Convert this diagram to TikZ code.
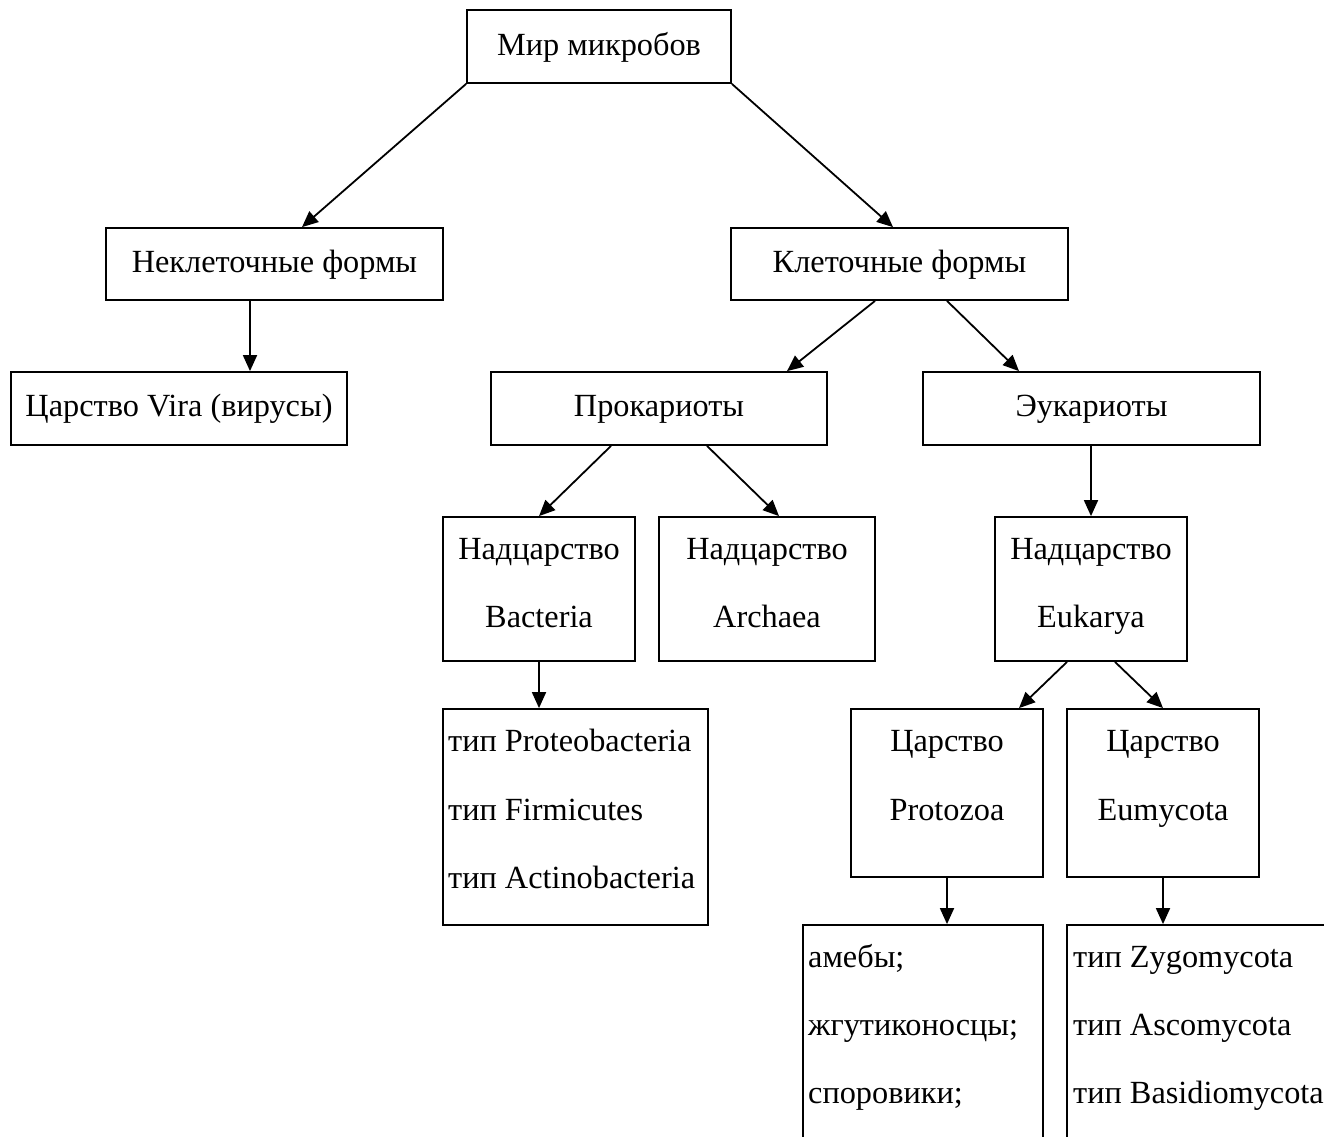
\documentclass[tikz,border=0pt]{standalone}
\usepackage{fontspec}
\setmainfont{Liberation Serif}
\usetikzlibrary{arrows.meta}
\begin{document}
\begin{tikzpicture}[x=1pt,y=-1pt,
  box/.style={draw,line width=1.8pt,inner sep=0pt},
  lbl/.style={font=\fontsize{32.3}{40}\selectfont,inner sep=0pt,anchor=base},
  lbll/.style={lbl,anchor=base west},
  arr/.style={-{Triangle[length=16pt,width=14pt]},line width=1.8pt}]
\clip (0,0) rectangle (1324,1136);
\fill[white] (0,0) rectangle (1324,1136);
% boxes
\node[box,minimum width=264pt,minimum height=73pt] (mir) at (599,46.5) {};
\node[box,minimum width=337pt,minimum height=72pt] (nek) at (274.5,264) {};
\node[box,minimum width=337pt,minimum height=72pt] (kl) at (899.5,264) {};
\node[box,minimum width=336pt,minimum height=73pt] (vira) at (179,408.5) {};
\node[box,minimum width=336pt,minimum height=73pt] (pro) at (659,408.5) {};
\node[box,minimum width=337pt,minimum height=73pt] (euk) at (1091.5,408.5) {};
\node[box,minimum width=192pt,minimum height=144pt] (bac) at (539,589) {};
\node[box,minimum width=216pt,minimum height=144pt] (arc) at (767,589) {};
\node[box,minimum width=192pt,minimum height=144pt] (eukarya) at (1091,589) {};
\node[box,minimum width=265pt,minimum height=216pt] (types) at (575.5,817) {};
\node[box,minimum width=192pt,minimum height=168pt] (protozoa) at (947,793) {};
\node[box,minimum width=192pt,minimum height=168pt] (eumycota) at (1163,793) {};
\node[box,minimum width=240pt,minimum height=235pt] (amebae) at (923,1042.5) {};
\node[box,minimum width=273pt,minimum height=235pt] (zygo) at (1203.5,1042.5) {};
% labels
\node[lbl] (t1) at (599,55) {Мир микробов};
\node[lbl] (t2) at (274.5,272) {Неклеточные формы};
\node[lbl] (t3) at (899.5,272) {Клеточные формы};
\node[lbl] (t4) at (179,416) {Царство Vira (вирусы)};
\node[lbl] (t5) at (659,416) {Прокариоты};
\node[lbl] (t6) at (1091.5,416) {Эукариоты};
\node[lbl] (t7) at (539,559) {Надцарство};
\node[lbl] (t8) at (539,627) {Bacteria};
\node[lbl] (t9) at (767,559) {Надцарство};
\node[lbl] (t10) at (767,627) {Archaea};
\node[lbl] (t11) at (1091,559) {Надцарство};
\node[lbl] (t12) at (1091,627) {Eukarya};
\node[lbll] (t13) at (448,751) {тип Proteobacteria};
\node[lbll] (t14) at (448,820) {тип Firmicutes};
\node[lbll] (t15) at (448,888) {тип Actinobacteria};
\node[lbl] (t16) at (947,751) {Царство};
\node[lbl] (t17) at (947,820) {Protozoa};
\node[lbl] (t18) at (1163,751) {Царство};
\node[lbl] (t19) at (1163,820) {Eumycota};
\node[lbll] (t20) at (808,967) {амебы;};
\node[lbll] (t21) at (808,1035) {жгутиконосцы;};
\node[lbll] (t22) at (808,1103) {споровики;};
\node[lbll] (t23) at (1073,967) {тип Zygomycota};
\node[lbll] (t24) at (1073,1035) {тип Ascomycota};
\node[lbll] (t25) at (1073,1103) {тип Basidiomycota};
% arrows
\draw[arr] (mir.south west) -- ([xshift=27.5pt]nek.north);
\draw[arr] (mir.south east) -- ([xshift=-6.5pt]kl.north);
\draw[arr] ([xshift=-24.5pt]nek.south) -- ([xshift=71pt]vira.north);
\draw[arr] ([xshift=-24.5pt]kl.south) -- ([xshift=128pt]pro.north);
\draw[arr] ([xshift=47.5pt]kl.south) -- ([xshift=-72.5pt]euk.north);
\draw[arr] ([xshift=-48pt]pro.south) -- (bac.north);
\draw[arr] ([xshift=48pt]pro.south) -- ([xshift=12pt]arc.north);
\draw[arr] ([xshift=-0.5pt]euk.south) -- (eukarya.north);
\draw[arr] (bac.south) -- ([xshift=-36.5pt]types.north);
\draw[arr] ([xshift=-24pt]eukarya.south) -- ([xshift=72pt]protozoa.north);
\draw[arr] ([xshift=24pt]eukarya.south) -- (eumycota.north);
\draw[arr] (protozoa.south) -- ([xshift=24pt]amebae.north);
\draw[arr] (eumycota.south) -- ([xshift=-40.5pt]zygo.north);
\end{tikzpicture}
\end{document}
